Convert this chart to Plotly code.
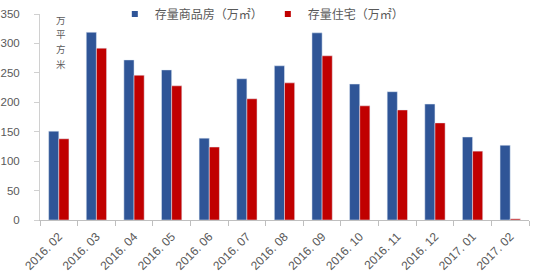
import plotly.graph_objects as go

categories = ["2016. 02", "2016. 03", "2016. 04", "2016. 05", "2016. 06", "2016. 07",
              "2016. 08", "2016. 09", "2016. 10", "2016. 11", "2016. 12", "2017. 01", "2017. 02"]
commercial = [151, 319, 272, 255, 139, 240, 262, 318, 231, 218, 197, 141, 127]
residential = [138, 292, 246, 228, 124, 206, 233, 279, 194, 187, 165, 117, 2]
name_commercial = "存量商品房（万㎡）"
name_residential = "存量住宅（万㎡）"
y_ticks = [0, 50, 100, 150, 200, 250, 300, 350]
unit_chars = ["万", "平", "方", "米"]

BLUE = "#2F5597"
RED = "#C00000"
GREY = "#595959"
CJK = "Noto Sans CJK SC"

fig = go.Figure()
fig.add_trace(go.Bar(x=categories, y=commercial, marker_color=BLUE, showlegend=False, name=name_commercial))
fig.add_trace(go.Bar(x=categories, y=residential, marker_color=RED, showlegend=False, name=name_residential))
fig.add_trace(go.Scatter(x=[None], y=[None], mode="markers", name=name_commercial,
                         marker=dict(symbol="square", size=6, color=BLUE)))
fig.add_trace(go.Scatter(x=[None], y=[None], mode="markers", name=name_residential,
                         marker=dict(symbol="square", size=6, color=RED)))

fig.update_layout(
    width=542, height=279,
    margin=dict(l=40, r=13, t=14, b=59, autoexpand=False),
    paper_bgcolor="white", plot_bgcolor="white",
    barmode="group", bargap=0.46, bargroupgap=0,
    font=dict(family="Liberation Sans, Arial, sans-serif", size=12, color=GREY),
    legend=dict(orientation="h", x=0.153, xanchor="left", y=1.0, yanchor="middle",
                font=dict(family=CJK, size=12, color=GREY), bgcolor="rgba(0,0,0,0)",
                itemwidth=30, traceorder="normal"),
)
fig.update_xaxes(type="category", showline=True, linecolor="#BFBFBF", linewidth=1,
                 ticks="outside", tickson="boundaries", ticklen=5, tickcolor="#BFBFBF",
                 tickangle=-45, tickfont=dict(size=12, color=GREY), showgrid=False,
                 automargin=False, ticklabelstandoff=4)
fig.update_yaxes(range=[0, 350], tickvals=y_ticks, showline=True, linecolor="#D0D0D0", linewidth=1,
                 ticks="outside", ticklen=5, tickcolor="#D0D0D0", showgrid=False, zeroline=False,
                 tickfont=dict(size=11.5, color=GREY), ticklabelstandoff=12, automargin=False)
for i, ch in enumerate(unit_chars):
    fig.add_annotation(xref="paper", yref="paper", x=(61 - 40) / 489, y=1.0 - (20 + 14.5 * i - 14) / 206,
                       xanchor="center", yanchor="middle", text=ch, showarrow=False,
                       font=dict(family=CJK, size=9.5, color=GREY))

fig.write_html("out.html")
